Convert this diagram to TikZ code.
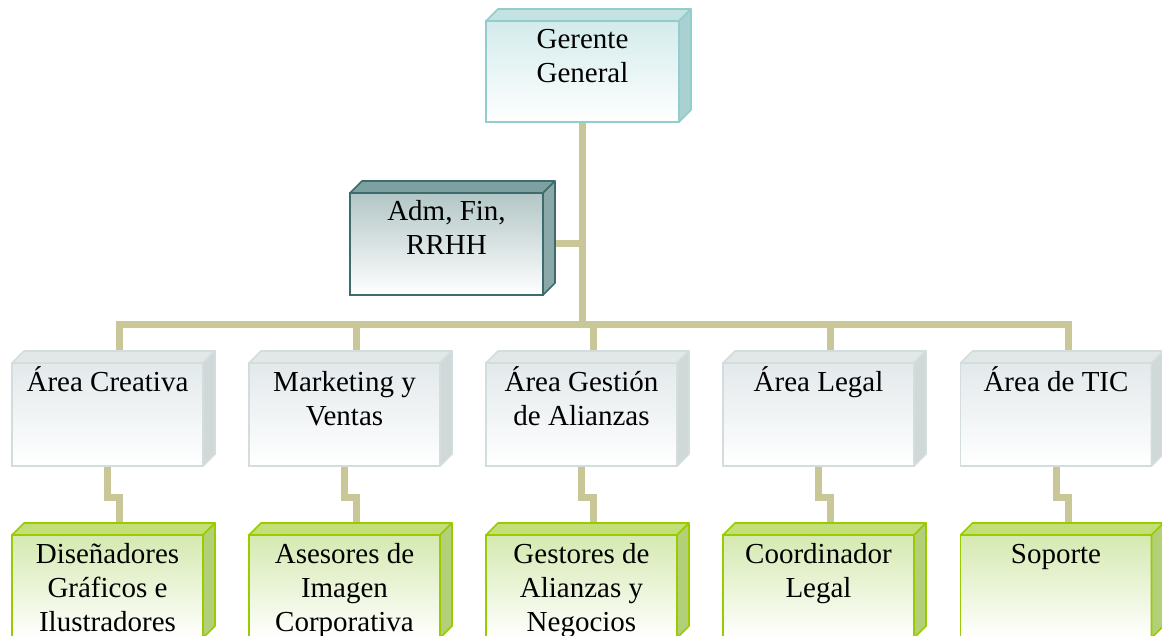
\documentclass[tikz,border=0pt]{standalone}
\usepackage{fontspec}
\setmainfont{Liberation Serif}
\usetikzlibrary{backgrounds}
\definecolor{linec}{HTML}{C9C797}
\definecolor{lineger}{HTML}{93CCCC}
\definecolor{topger}{HTML}{C4E2E2}
\definecolor{frontger}{HTML}{D3EBEB}
\definecolor{sideger}{HTML}{AAD1D1}
\definecolor{lineadm}{HTML}{3E6B6B}
\definecolor{topadm}{HTML}{7DA0A0}
\definecolor{frontadm}{HTML}{B3C6C6}
\definecolor{sideadm}{HTML}{8CA9A9}
\definecolor{linear}{HTML}{D4DDDD}
\definecolor{topar}{HTML}{E2E8E8}
\definecolor{frontar}{HTML}{E3E9EB}
\definecolor{sidear}{HTML}{D0D8D8}
\definecolor{linegr}{HTML}{99CC00}
\definecolor{topgr}{HTML}{C5DF78}
\definecolor{frontgr}{HTML}{D5E9B0}
\definecolor{sidegr}{HTML}{B3CF78}
\tikzset{
  conn/.style={draw=linec,line width=7pt},
  cube/.style={inner sep=0pt,outer sep=0pt,line width=1.6pt,font=\fontsize{29}{34}\selectfont},
  gercube/.style={cube,draw=lineger,top color=frontger,bottom color=white},
  admcube/.style={cube,draw=lineadm,top color=frontadm,bottom color=white},
  arcube/.style={cube,draw=linear,top color=frontar,bottom color=white},
  grcube/.style={cube,draw=linegr,top color=frontgr,bottom color=white},
}
\newcommand{\boxtxt}[3]{\parbox[c][#2][t]{#1}{\centering\rule{0pt}{28pt}#3}}

\begin{document}
\begin{tikzpicture}[x=1pt,y=-1pt]
\useasboundingbox (0,0) rectangle (1162,636);
\clip (0,0) rectangle (1162,636);
\node[gercube] (ger) at (582.5,71.5) {\boxtxt{193pt}{101pt}{Gerente\\General}};
\node[admcube] (adm) at (446.5,244) {\boxtxt{193pt}{102pt}{Adm, Fin,\\RRHH}};
% areas
\node[arcube] (a1) at (107.5,414.5) {\boxtxt{191pt}{103pt}{Área Creativa}};
\node[arcube] (a2) at (344.5,414.5) {\boxtxt{191pt}{103pt}{Marketing y\\Ventas}};
\node[arcube] (a3) at (581.5,414.5) {\boxtxt{191pt}{103pt}{Área Gestión\\de Alianzas}};
\node[arcube] (a4) at (818.5,414.5) {\boxtxt{191pt}{103pt}{Área Legal}};
\node[arcube] (a5) at (1056,414.5) {\boxtxt{191pt}{103pt}{Área de TIC}};
% puestos
\node[grcube] (g1) at (107.5,586.5) {\boxtxt{191pt}{103pt}{Diseñadores\\Gráficos e\\Ilustradores}};
\node[grcube] (g2) at (344.5,586.5) {\boxtxt{191pt}{103pt}{Asesores de\\Imagen\\Corporativa}};
\node[grcube] (g3) at (581.5,586.5) {\boxtxt{191pt}{103pt}{Gestores de\\Alianzas y\\Negocios}};
\node[grcube] (g4) at (818.5,586.5) {\boxtxt{191pt}{103pt}{Coordinador\\Legal}};
\node[grcube] (g5) at (1056,586.5) {\boxtxt{191pt}{103pt}{Soporte}};
% caras de los cubos
\foreach \n/\s in {ger/ger,adm/adm,a1/ar,a2/ar,a3/ar,a4/ar,a5/ar,g1/gr,g2/gr,g3/gr,g4/gr,g5/gr}{
  \filldraw[fill=top\s,draw=line\s,line width=1.6pt,line join=round] (\n.north west) -- ([shift={(12,-12)}]\n.north west) -- ([shift={(12,-12)}]\n.north east) -- (\n.north east) -- cycle;
  \filldraw[fill=side\s,draw=line\s,line width=1.6pt,line join=round] (\n.north east) -- ([shift={(12,-12)}]\n.north east) -- ([shift={(12,-12)}]\n.south east) -- (\n.south east) -- cycle;
}
\begin{scope}[on background layer]
\coordinate (bus) at (0,325);
\draw[conn] (ger.south) -- (ger.south |- bus);
\draw[conn] (adm.east) -- (adm.east -| ger.south);
\foreach \i in {1,...,5}{
  \draw[conn] (ger.south |- bus) -| ([xshift=12pt]a\i.north);
  \draw[conn] (a\i.south) -- ++(0,31) -| ([xshift=12pt]g\i.north);
}
\end{scope}
\end{tikzpicture}
\end{document}
